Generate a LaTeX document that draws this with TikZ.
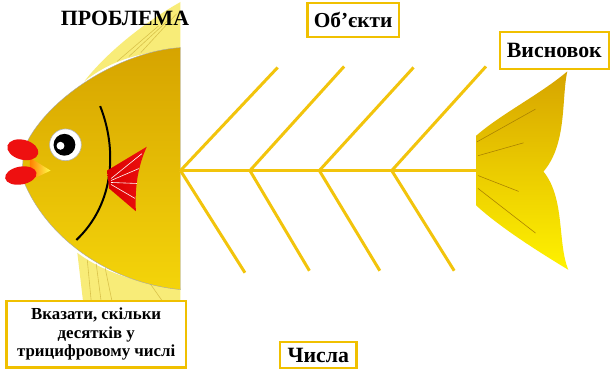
\documentclass[tikz,border=0pt]{standalone}
\usepackage{fontspec}
\setmainfont{Liberation Serif}
\usetikzlibrary{positioning}

\definecolor{bonegold}{HTML}{F2C40C}
\definecolor{boxgold}{HTML}{F0C000}
\definecolor{bodydark}{HTML}{D6A400}
\definecolor{bodylight}{HTML}{F4D40A}
\definecolor{finlight}{HTML}{F8EC78}
\definecolor{finline}{HTML}{D9C24A}
\definecolor{lipred}{HTML}{EE1010}

\begin{document}
\begin{tikzpicture}[
    x=1pt, y=-1pt,
    box/.style={rectangle, draw=boxgold, line width=2.2pt, fill=white, text centered, inner sep=2pt, font=\bfseries\fontsize{22}{24}\selectfont},
    bone/.style={draw=bonegold, line width=3pt},
    ray/.style={draw=finline, line width=0.6pt},
    title/.style={font=\bfseries\fontsize{22}{24}\selectfont}
]

% page
\fill[white] (0,0) rectangle (610,378);

% Upper fin
\fill[finlight] (85,82) .. controls (110,50) and (150,20) .. (182,2) -- (182,50) .. controls (140,52) and (110,62) .. cycle;
\draw[ray] (118,62) -- (160,26);
\draw[ray] (130,57) -- (170,20);
\draw[ray] (142,53) -- (178,14);

% Lower fin
\fill[finlight] (78,255) -- (84,306) -- (182,306) -- (182,290) .. controls (140,286) and (105,275) .. cycle;
\draw[ray] (88,262) -- (92,304);
\draw[ray] (97,266) -- (102,304);
\draw[ray] (106,270) -- (113,304);
\draw[ray] (150,284) -- (164,304);

% Body
\shade[top color=bodydark, bottom color=bodylight, draw=black!35, line width=0.4pt]
  (182,48) .. controls (120,52) and (45,100) .. (24,150) -- (22,178)
  .. controls (45,240) and (110,285) .. (182,292) -- cycle;

% Gill
\draw[black, line width=2pt] (101,107) .. controls (118,150) and (116,205) .. (77,242);

% Eye
\fill[white, draw=black!30, line width=0.6pt] (66,146) circle (16pt);
\fill[black] (65,146) circle (11pt);
\fill[white] (61,147) circle (4pt);

% Pectoral fin
\shade[left color=red!85!black, right color=lipred]
  (108,172) -- (148,148) .. controls (138,170) and (136,192) .. (137,213) -- (110,190) -- cycle;
\draw[white, line width=0.6pt] (112,180) -- (143,155);
\draw[white, line width=0.6pt] (112,182) -- (140,170);
\draw[white, line width=0.6pt] (112,184) -- (138,185);
\draw[white, line width=0.6pt] (112,186) -- (136,200);

% Mouth and lips
\shade[left color=orange, right color=yellow!70] (30,159) -- (51,172) -- (30,182) -- cycle;
\fill[lipred] (23,151) ellipse [x radius=16pt, y radius=10pt, rotate=-15];
\fill[lipred] (21,177) ellipse [x radius=16pt, y radius=9pt, rotate=10];

% Tail
\shade[top color=bodydark, bottom color=yellow!90!orange]
  (480,137) .. controls (505,115) and (545,95) .. (572,72)
  .. controls (566,100) and (572,145) .. (548,173)
  .. controls (570,200) and (562,245) .. (573,272)
  .. controls (545,255) and (505,230) .. (480,207) -- cycle;
\draw[bodydark!80!black, line width=0.6pt] (481,143) -- (540,110);
\draw[bodydark!80!black, line width=0.6pt] (482,157) -- (528,144);
\draw[bodydark!80!black, line width=0.6pt] (482,177) -- (523,193);
\draw[bodydark!80!black, line width=0.6pt] (482,190) -- (540,235);

% Spine
\coordinate (s0) at (182,172);
\coordinate (s1) at (252,172);
\coordinate (s2) at (322,172);
\coordinate (s3) at (395,172);
\coordinate (tailjoin) at (480,172);
\draw[bone] (s0) -- (tailjoin);

% Upper bones
\coordinate (u0) at (280,68);
\coordinate (u1) at (347,67);
\coordinate (u2) at (417,68);
\coordinate (u3) at (490,67);
\draw[bone] (s0) -- (u0);
\draw[bone] (s1) -- (u1);
\draw[bone] (s2) -- (u2);
\draw[bone] (s3) -- (u3);

% Lower bones
\coordinate (l0) at (247,275);
\coordinate (l1) at (312,273);
\coordinate (l2) at (383,273);
\coordinate (l3) at (458,273);
\draw[bone] (s0) -- (l0);
\draw[bone] (s1) -- (l1);
\draw[bone] (s2) -- (l2);
\draw[bone] (s3) -- (l3);

% Labels
\node[title] (problem) at (126,19) {ПРОБЛЕМА};
\node[box, minimum width=92pt, minimum height=34pt, font=\bfseries\fontsize{21.5}{24}\selectfont] (objects) at (356,20) {Об’єкти};
\node[box, minimum width=110pt, minimum height=37pt, inner sep=1pt] (conclusion) at (559,51) {Висновок};
\node[box, minimum width=77pt, minimum height=26pt, inner sep=1pt] (numbers) at (321,358) {Числа};
\node[box, minimum width=181pt, minimum height=67pt, align=center, font=\bfseries\fontsize{17}{18.5}\selectfont] (task) at (97,337) {Вказати, скільки\\десятків у\\трицифровому числі};

\end{tikzpicture}
\end{document}
